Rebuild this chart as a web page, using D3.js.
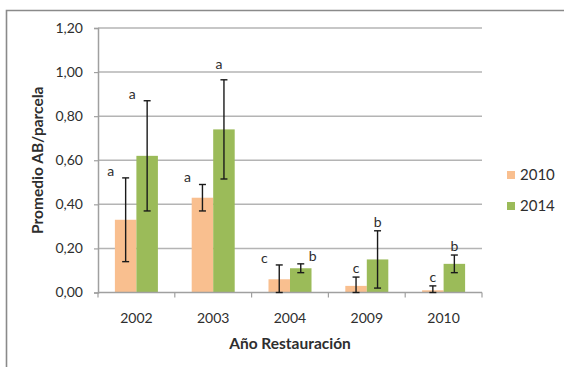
<!DOCTYPE html>
<html>
<head>
<meta charset="utf-8">
<script src="https://cdn.jsdelivr.net/npm/d3@7"></script>
<style>
  html, body { margin: 0; padding: 0; background: #fff; }
  svg { display: block; }
  text { font-family: Lato, "Open Sans", sans-serif; fill: #2e2e2e; }
</style>
</head>
<body>
<svg id="chart" width="564" height="367"></svg>
<script>
// Restoration years and mean basal area per plot, with standard deviations
const years = ['2002', '2003', '2004', '2009', '2010'];
const seriesNames = ['2010', '2014'];
const mean2010 = [0.33, 0.43, 0.06, 0.03, 0.01];
const err2010 = [0.19, 0.06, 0.065, 0.04, 0.02];
const mean2014 = [0.62, 0.74, 0.11, 0.15, 0.13];
const err2014 = [0.25, 0.225, 0.02, 0.13, 0.04];
const letters2010 = ['a', 'a', 'c', 'c', 'c'];
const letters2014 = ['a', 'a', 'b', 'b', 'b'];
const yTicks = [0, 0.2, 0.4, 0.6, 0.8, 1.0, 1.2];

// where each significance letter sits relative to its error bar
const place2010 = ['left', 'left', 'left', 'above', 'above'];
const place2014 = ['left', 'top', 'right', 'above', 'above'];

const colors = { '2010': '#F9BF8F', '2014': '#9BBB59' };

const series = [
  { name: '2010', mean: mean2010, err: err2010, letters: letters2010, place: place2010 },
  { name: '2014', mean: mean2014, err: err2014, letters: letters2014, place: place2014 }
];

const svg = d3.select('#chart');
const fmt = v => d3.format('.2f')(v).replace('.', ',');

// outer chart frame
svg.append('path')
  .attr('d', 'M6.5,370 L6.5,10.5 L570,10.5')
  .attr('fill', 'none')
  .attr('stroke', '#8a8a8a')
  .attr('stroke-width', 1.6);

const x0 = d3.scaleBand().domain(years).range([98, 482]).paddingInner(0.44).paddingOuter(0.22);
const x1 = d3.scaleBand().domain(seriesNames).range([0, x0.bandwidth()]);
const y = d3.scaleLinear().domain([0, 1.2]).range([292.5, 28]);

// horizontal gridlines
svg.append('g')
  .selectAll('line')
  .data(yTicks.filter(t => t > 0))
  .join('line')
  .attr('x1', 98).attr('x2', 482)
  .attr('y1', d => y(d)).attr('y2', d => y(d))
  .attr('stroke', '#b4b4b4')
  .attr('stroke-width', 1.5);

// y axis
const yAxis = svg.append('g')
  .attr('transform', 'translate(98,0)')
  .call(d3.axisLeft(y).tickValues(yTicks).tickFormat(fmt).tickSize(4).tickPadding(11));
yAxis.select('.domain').attr('stroke', '#a0a0a0').attr('stroke-width', 1.5);
yAxis.selectAll('.tick line').attr('stroke', '#a0a0a0').attr('stroke-width', 1.2);
yAxis.selectAll('.tick text')
  .style('font-size', '14px')
  .style('font-family', 'Lato, sans-serif')
  .attr('fill', '#2e2e2e');

// bars
const groups = svg.append('g')
  .selectAll('g')
  .data(series)
  .join('g');

groups.selectAll('rect')
  .data(s => years.map((yr, i) => ({ yr, v: s.mean[i], s: s.name })))
  .join('rect')
  .attr('x', d => x0(d.yr) + x1(d.s))
  .attr('width', x1.bandwidth())
  .attr('y', d => y(d.v))
  .attr('height', d => y(0) - y(d.v))
  .attr('fill', d => colors[d.s]);

// x axis with category separators
const xAxisG = svg.append('g');
xAxisG.append('line')
  .attr('x1', 98).attr('x2', 482)
  .attr('y1', y(0)).attr('y2', y(0))
  .attr('stroke', '#a0a0a0').attr('stroke-width', 1.5);
const bounds = years.map(yr => x0(yr) - x0.step() * x0.paddingInner() / 2).concat([482]);
bounds[0] = 98;
xAxisG.selectAll('.sep')
  .data(bounds)
  .join('line')
  .attr('x1', d => d).attr('x2', d => d)
  .attr('y1', y(0)).attr('y2', y(0) + 5)
  .attr('stroke', '#a0a0a0').attr('stroke-width', 1.2);
xAxisG.selectAll('text')
  .data(years)
  .join('text')
  .attr('x', d => x0(d) + x0.bandwidth() / 2)
  .attr('y', y(0) + 30.5)
  .attr('text-anchor', 'middle')
  .style('font-size', '14px')
  .text(d => d);

// error bars
series.forEach(s => {
  const g = svg.append('g').attr('stroke', '#1a1a1a').attr('stroke-width', 1.4);
  years.forEach((yr, i) => {
    const cx = x0(yr) + x1(s.name) + x1.bandwidth() / 2;
    const hi = y(s.mean[i] + s.err[i]);
    const lo = y(Math.max(0, s.mean[i] - s.err[i]));
    g.append('line').attr('x1', cx).attr('x2', cx).attr('y1', hi).attr('y2', lo);
    g.append('line').attr('x1', cx - 3.5).attr('x2', cx + 3.5).attr('y1', hi).attr('y2', hi);
    g.append('line').attr('x1', cx - 3.5).attr('x2', cx + 3.5).attr('y1', lo).attr('y2', lo);
  });
});

// significance letters
series.forEach(s => {
  years.forEach((yr, i) => {
    const cx = x0(yr) + x1(s.name) + x1.bandwidth() / 2;
    const top = y(s.mean[i] + s.err[i]);
    let tx = cx, ty = top - 4;
    if (s.place[i] === 'left') { tx = cx - 15; ty = top - 2; }
    if (s.place[i] === 'right') { tx = cx + 12; ty = top - 3; }
    if (s.place[i] === 'top') { tx = cx - 5; ty = top - 11; }
    svg.append('text')
      .attr('x', tx).attr('y', ty)
      .attr('text-anchor', 'middle')
      .style('font-size', '14px')
      .attr('fill', '#2e2e2e')
      .text(s.letters[i]);
  });
});

// axis titles
svg.append('text')
  .attr('transform', 'translate(43,' + ((y(0) + y(1.2)) / 2) + ') rotate(-90)')
  .attr('text-anchor', 'middle')
  .style('font-size', '15.5px')
  .style('font-weight', 'bold')
  .text('Promedio AB/parcela');

svg.append('text')
  .attr('x', 290).attr('y', 348.5)
  .attr('text-anchor', 'middle')
  .style('font-size', '15.5px')
  .style('font-weight', 'bold')
  .text('Año Restauración');

// legend
const legend = svg.append('g')
  .selectAll('g')
  .data(seriesNames)
  .join('g')
  .attr('transform', (d, i) => 'translate(507,' + (171 + i * 31) + ')');
legend.append('rect')
  .attr('width', 8).attr('height', 8)
  .attr('fill', d => colors[d]);
legend.append('text')
  .attr('x', 13).attr('y', 9)
  .style('font-size', '15px')
  .text(d => d);
</script>
</body>
</html>
